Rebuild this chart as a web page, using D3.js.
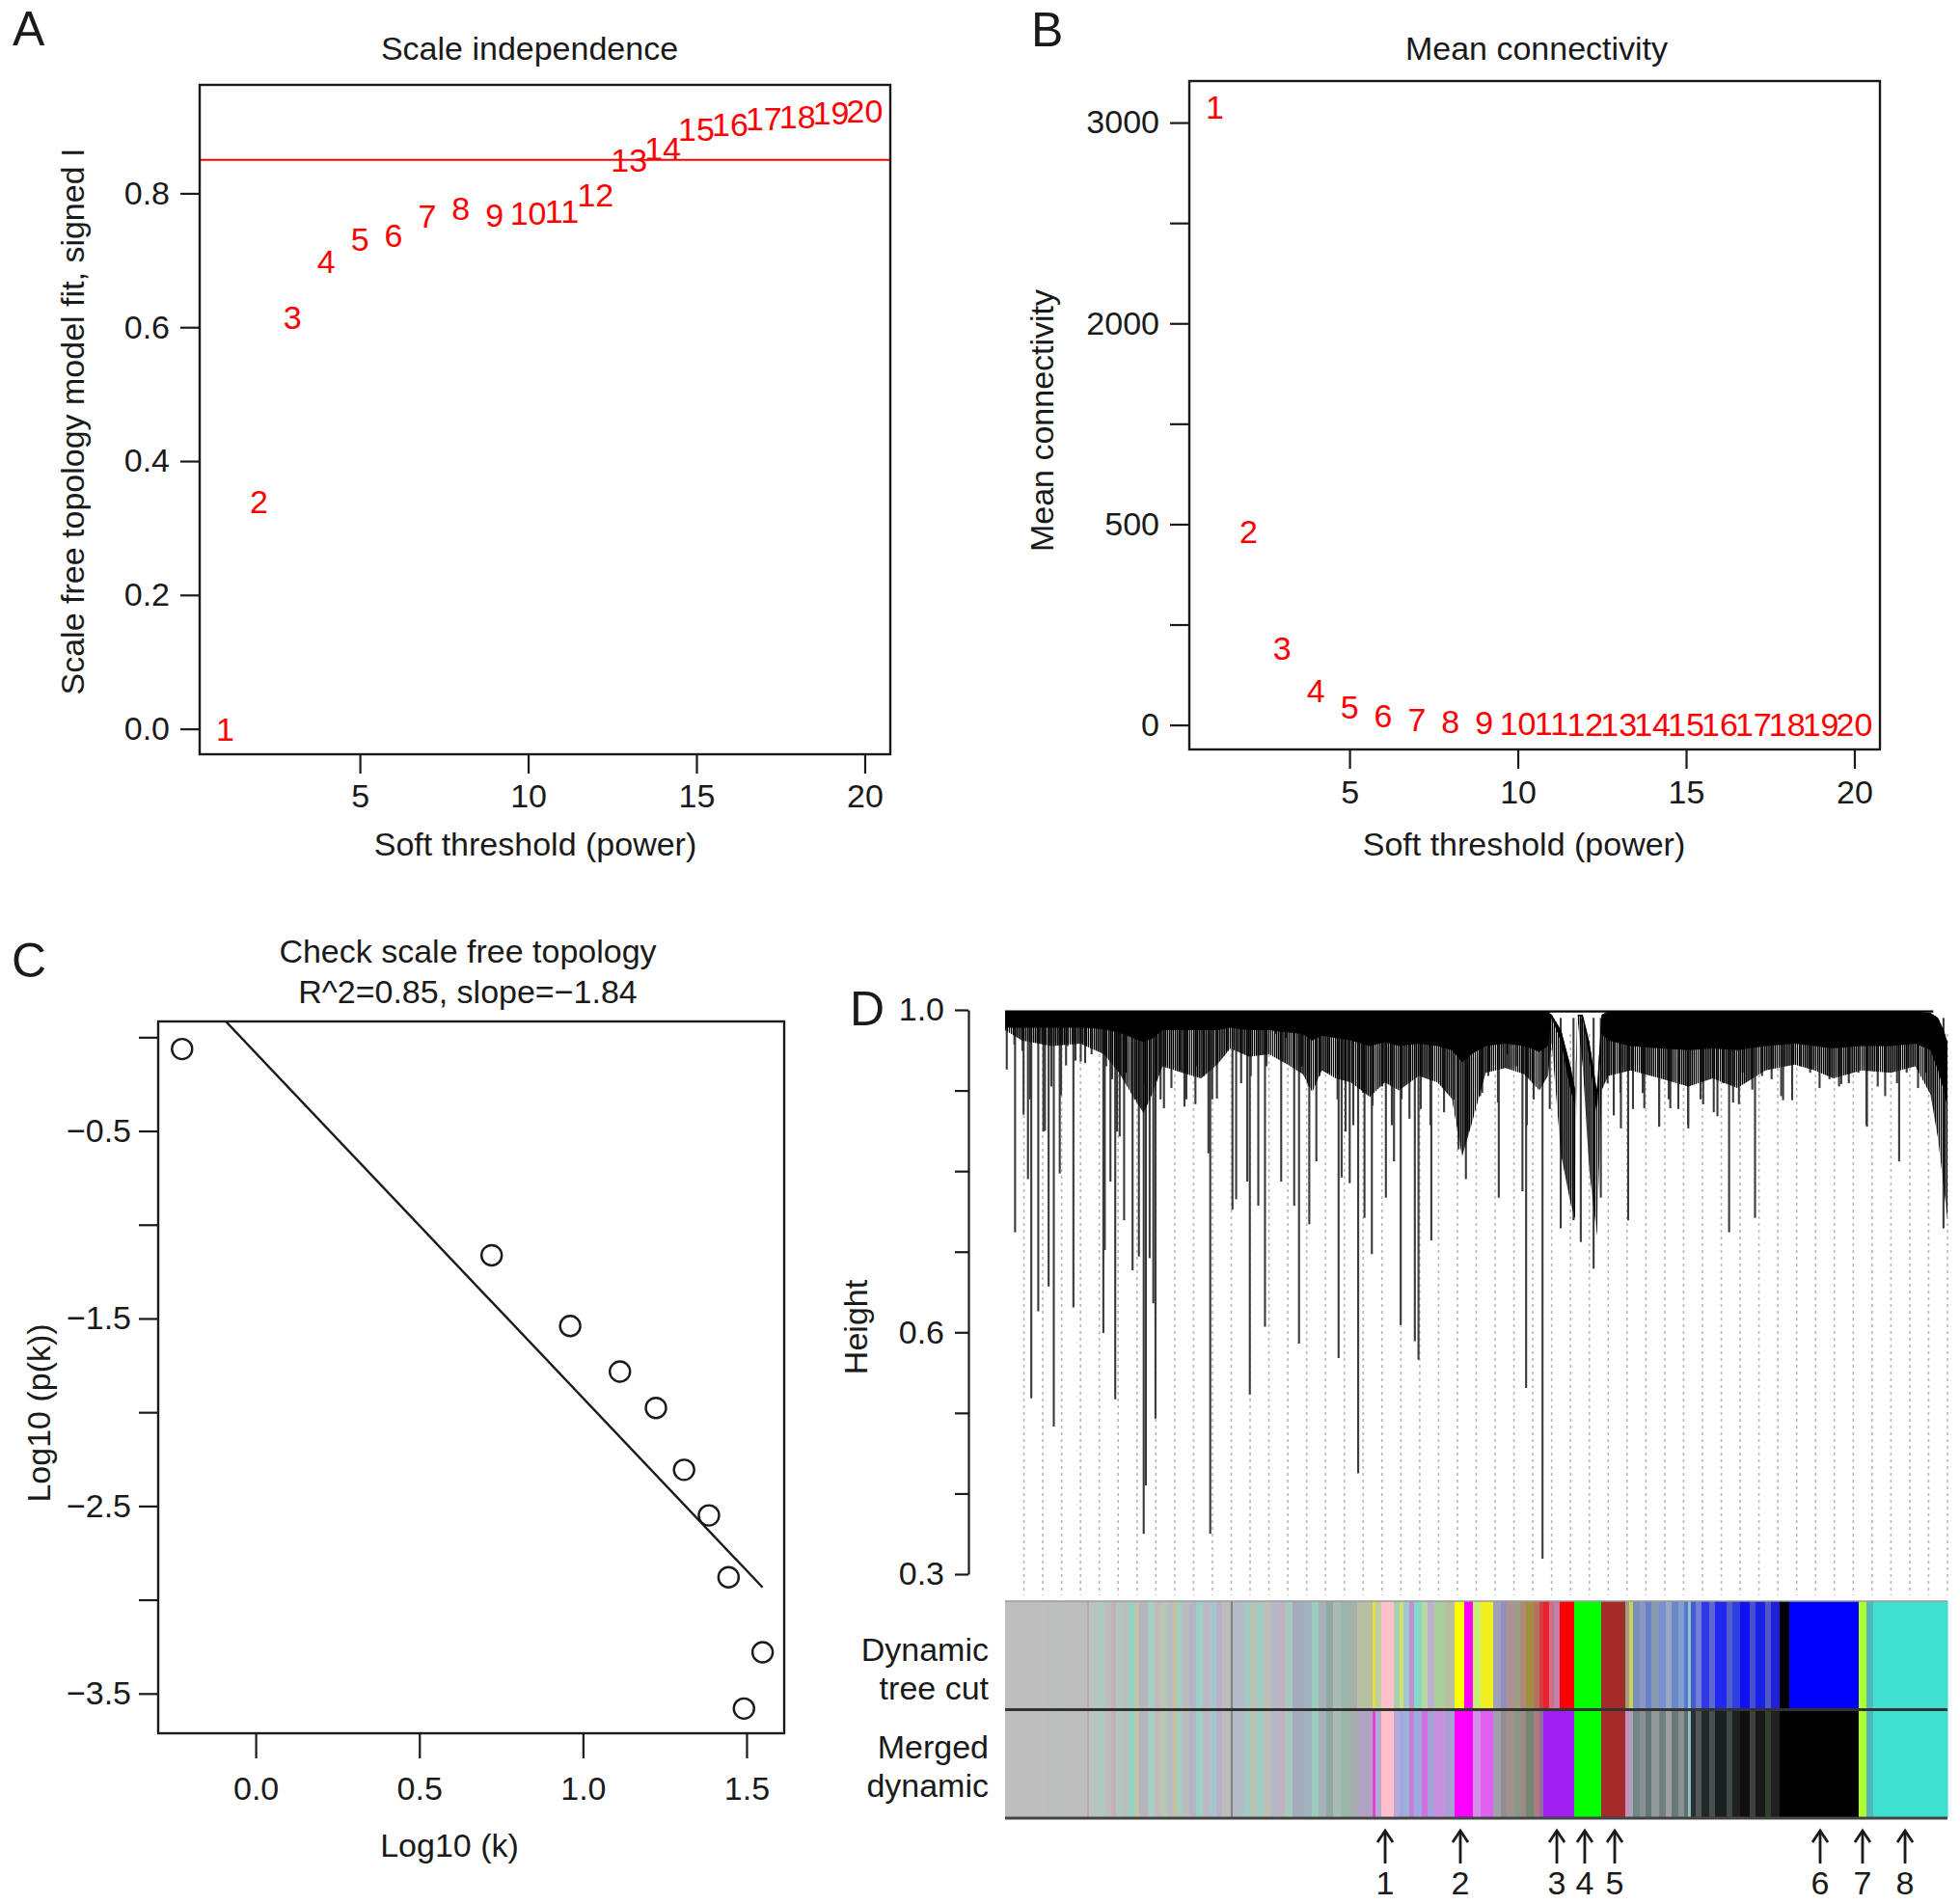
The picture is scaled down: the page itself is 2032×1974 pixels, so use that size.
<!DOCTYPE html>
<html><head><meta charset="utf-8">
<script src="https://cdn.jsdelivr.net/npm/d3@7"></script>
<style>
body{margin:0;background:#fff}
svg{display:block}
text{font-family:"Liberation Sans",Arial,Helvetica,sans-serif}
</style>
</head><body>
<svg id="fig" width="2032" height="1974"></svg>
<script>
// ---------------- DATA ----------------
const powers = [1,2,3,4,5,6,7,8,9,10,11,12,13,14,15,16,17,18,19,20];
const scaleFitR2 = [0.000,0.340,0.614,0.698,0.731,0.737,0.766,0.778,0.768,0.770,0.773,0.798,0.849,0.867,0.896,0.903,0.911,0.915,0.920,0.923];
const r2Cutoff = 0.85;
const meanConnectivity = [3077,963,384,170,89,47,27,17,12,8,6,4.5,3.5,2.8,2.2,1.8,1.5,1.2,1.0,0.9];
const powerTicks = [5,10,15,20];
const fitTicks = [0,0.2,0.4,0.6,0.8];
const fitTickLabels = ["0.0","0.2","0.4","0.6","0.8"];
const connTicks = [0,500,1000,1500,2000,2500,3000];
const connTickLabels = ["0","","500","","2000","","3000"];

const logK  = [-0.225,0.721,0.961,1.113,1.223,1.309,1.385,1.445,1.549,1.492];
const logPk = [-0.063,-1.163,-1.540,-1.783,-1.977,-2.307,-2.550,-2.880,-3.280,-3.580];
const fitSlope = -1.84, fitIntercept = -0.084;
const logKTicks = [0,0.5,1.0,1.5];
const logKTickLabels = ["0.0","0.5","1.0","1.5"];
const logPkTicks = [0,-0.5,-1,-1.5,-2,-2.5,-3,-3.5];
const logPkTickLabels = ["","\u22120.5","","\u22121.5","","\u22122.5","","\u22123.5"];

const heightTicks = [0.3,0.4,0.5,0.6,0.7,0.8,0.9,1.0];
const heightTickLabels = ["0.3","","","0.6","","","","1.0"];
// dendrogram canopy profile: [leaf-order %, top height, solid-band bottom, dense-lines bottom]
const canopy = [
 [0,0.998,0.978,0.975],[1.8,0.998,0.978,0.962],[4.9,0.998,0.978,0.955],[8.0,0.998,0.978,0.958],
 [10.5,0.998,0.976,0.945],[12.1,0.998,0.972,0.922],[13.6,0.998,0.965,0.892],[14.7,0.998,0.960,0.872],
 [15.7,0.998,0.965,0.898],[16.7,0.998,0.975,0.930],[18.8,0.998,0.975,0.922],[20.8,0.998,0.975,0.915],
 [22.5,0.998,0.975,0.932],[23.9,0.998,0.978,0.952],[25.9,0.998,0.975,0.942],[28.0,0.998,0.975,0.945],
 [30.0,0.998,0.972,0.932],[31.6,0.998,0.970,0.920],[32.6,0.998,0.962,0.898],[33.6,0.998,0.968,0.925],
 [35.1,0.998,0.965,0.915],[36.7,0.998,0.962,0.910],[38.7,0.998,0.955,0.892],[40.3,0.998,0.960,0.910],
 [41.8,0.998,0.955,0.900],[43.9,0.998,0.958,0.918],[45.9,0.998,0.955,0.910],[47.4,0.998,0.950,0.890],
 [48.5,0.998,0.935,0.818],[49.5,0.998,0.945,0.858],[51.0,0.998,0.955,0.922],[53.1,0.998,0.958,0.928],
 [55.1,0.998,0.955,0.920],[56.7,0.998,0.948,0.900],[57.6,0.998,0.955,0.918],[58.0,0.994,0.990,0.960],
 [59.0,0.975,0.960,0.820],[60.0,0.930,0.900,0.760],[60.5,0.900,0.880,0.740],[60.7,0.994,0.994,0.994],
 [61.3,0.994,0.990,0.930],[62.0,0.960,0.940,0.800],[62.8,0.900,0.870,0.720],[63.3,0.994,0.970,0.900],
 [64.0,0.998,0.962,0.918],[66.4,0.998,0.955,0.925],[69.5,0.998,0.952,0.915],[72.5,0.998,0.950,0.905],
 [75.1,0.998,0.952,0.915],[77.7,0.998,0.950,0.903],[80.7,0.998,0.955,0.925],[83.8,0.998,0.958,0.932],
 [85.9,0.998,0.955,0.925],[87.9,0.998,0.952,0.915],[90.9,0.998,0.955,0.925],[94.0,0.998,0.955,0.922],
 [96.6,0.998,0.958,0.930],[98.2,0.996,0.950,0.895],[99.0,0.990,0.925,0.840],[99.6,0.975,0.900,0.780],
 [100,0.960,0.880,0.740]
];
// individual hanging branches: [leaf-order %, leaf height]
const drops = [
 [0.18,0.926],[1.06,0.724],[1.96,0.870],[2.43,0.790],[2.78,0.518],[3.52,0.626],[4.23,0.850],[4.62,0.657],
 [5.17,0.483],[5.80,0.797],[6.47,0.931],[7.25,0.631],[8.03,0.936],[10.43,0.599],[10.58,0.702],[11.18,0.787],
 [11.69,0.517],[12.16,0.843],[12.63,0.739],[13.53,0.677],[14.20,0.694],[14.71,0.350],[14.94,0.410],[15.34,0.692],
 [15.73,0.636],[15.96,0.493],[16.86,0.878],[17.65,0.903],[19.03,0.880],[20.20,0.883],[21.58,0.822],[21.77,0.350],
 [22.48,0.890],[24.13,0.752],[24.52,0.765],[25.70,0.787],[25.97,0.523],[26.87,0.757],[27.58,0.607],[29.30,0.787],
 [30.68,0.757],[31.19,0.586],[32.28,0.734],[33.03,0.812],[35.39,0.568],[35.71,0.792],[36.57,0.785],[37.47,0.425],
 [38.14,0.742],[38.92,0.697],[40.41,0.767],[41.27,0.812],[41.98,0.609],[42.91,0.865],[43.48,0.589],[43.87,0.566],
 [45.23,0.714],[46.58,0.873],[48.12,0.827],[48.90,0.790],[50.41,0.893],[52.39,0.767],[54.90,0.775],[55.29,0.531],
 [57.03,0.319],[58.96,0.729],[60.32,0.739],[61.09,0.712],[62.45,0.679],[63.22,0.767],[65.35,0.853],[66.12,0.739],
 [67.83,0.878],[69.41,0.855],[70.59,0.878],[72.50,0.853],[74.08,0.883],[75.59,0.868],[76.83,0.724],[77.87,0.883],
 [79.58,0.742],[82.56,0.888],[83.52,0.888],[86.43,0.903],[88.73,0.908],[91.46,0.855],[93.39,0.893],[94.87,0.812],
 [96.88,0.903],[99.58,0.729],
 [0.99,0.957],[1.84,0.949],[2.66,0.889],[3.55,0.960],[4.06,0.849],[4.91,0.905],[5.94,0.894],[6.62,0.955],
 [7.47,0.937],[8.50,0.934],[9.18,0.945],[10.72,0.930],[11.36,0.914],[11.87,0.849],[12.90,0.922],[13.79,0.889],
 [14.81,0.909],[15.97,0.930],[16.50,0.889],[18.53,0.925],[19.24,0.889],[20.27,0.930],[21.09,0.918],[21.98,0.889],
 [23.64,0.949],[25.05,0.909],[26.07,0.918],[27.74,0.930],[28.76,0.970],[29.78,0.965],[31.50,0.930],[32.21,0.905],
 [33.37,0.918],[34.26,0.922],[35.28,0.889],[36.13,0.849],[36.95,0.857],[37.97,0.897],[38.99,0.881],[40.02,0.905],
 [41.04,0.857],[42.07,0.889],[44.11,0.877],[45.14,0.857],[47.56,0.889],[49.10,0.849],[50.63,0.897],[51.28,0.918],
 [52.30,0.885],[53.33,0.945],[54.22,0.930],[55.37,0.857],[56.09,0.889],[57.80,0.877],[63.94,0.909],[64.59,0.869],
 [65.30,0.897],[66.63,0.877],[67.66,0.897],[69.40,0.857],[70.42,0.889],[71.44,0.877],[72.47,0.857],[73.80,0.889],
 [75.20,0.873],[76.22,0.909],[77.25,0.885],[78.27,0.922],[79.29,0.901],[80.32,0.918],[81.34,0.914],[82.36,0.893],
 [84.41,0.930],[85.43,0.922],[87.48,0.914],[88.50,0.905],[89.53,0.909],[90.55,0.922],[91.40,0.857],[92.60,0.905],
 [94.65,0.909],[95.67,0.922],[97.72,0.922]
];
// module colour stripes (leaf-order % boundaries)
const stripeBreaks = [0,4.40,5.53,6.35,8.70,8.90,10.03,10.54,11.26,11.77,12.59,13.10,13.72,14.23,15.15,15.86,16.48,17.20,17.81,18.22,18.83,19.55,20.27,20.98,21.70,22.42,23.03,23.95,24.16,25.38,26.00,26.71,27.43,28.25,29.07,29.68,30.50,31.73,32.55,33.27,34.08,34.80,35.62,36.44,37.36,39.00,39.30,39.92,41.25,41.86,42.27,42.89,43.40,44.22,44.83,45.55,46.67,47.70,48.72,49.64,50.46,51.79,52.61,53.22,54.04,54.66,55.27,56.09,56.70,57.11,57.73,58.24,58.85,60.39,63.25,65.81,66.22,66.63,67.35,67.96,68.58,69.40,70.11,70.73,71.44,72.06,72.47,72.77,73.29,73.90,74.72,75.33,76.56,77.17,77.99,79.02,79.63,80.66,81.27,82.19,83.21,90.58,91.40,92.12,100];
const sharedLeftColors = ["#bebebe","#bcbebd","#b9c0bd","#bdbdbd","#c2a4ac","#b8c4c0","#a8cbc2","#bdbdbd","#c4b0b4","#b0c6be","#bdbdbd","#96d2c4","#c0c4a8","#b8b4bc","#a6cec4","#c4b8bc","#b4c8b4","#b8bcc4","#c8c09c","#a4ccc2","#bcbcbc","#b4b4c8","#9ccfc6","#c0b8c0","#a8c4cc","#b8b0c4","#bcbcbc","#808080","#b4bcc8","#a4c8c4","#b8c4b0","#a0ccc4","#bcc0b4","#b4b8c8","#c4b0c0","#a8c8c0","#a4acbc","#a0b4c0","#9cccbc","#a8b0b8","#90a8a0","#a8bcb4","#98b8a8","#a4b0a8"];
const dynamicRightColors = ["#b8c0a0","#e8e040","#c0d0a0","#ffc0cb","#a8d0b0","#d0e070","#a0c8d0","#c090d0","#88d8c8","#b8d8a0","#c0b0d0","#a8d098","#b8c0a0","#ffff00","#ff00ff","#c8f070","#f0f020","#a0a0b8","#9090c0","#b09090","#98a088","#b08878","#a09040","#b87060","#d04040","#e82030","#d07080","#c080b0","#ff0000","#00ff00","#a52a2a","#a0a080","#d0d060","#7890b8","#8898c0","#6880c8","#8898b0","#7890d0","#98a8c0","#6888c8","#80a0d0","#5878d0","#90c8c0","#4858d0","#7080d8","#3038e8","#6068d0","#2028f0","#5060c8","#3040e0","#1010f0","#4850d0","#1820e8","#5058c8","#2020d8","#000000","#0000ff","#adff2f","#50b8b8","#40e0d0"];
const mergedRightColors = ["#b0a4c4","#e040e0","#b8a8d0","#ffc0cb","#b8a8d8","#a0a8e0","#9cb0d8","#c080d8","#a0a8e0","#d070e0","#a8a0d8","#c890e0","#a8a0d0","#ff00ff","#ff00ff","#d090e8","#e060f0","#a0a0b0","#909090","#a09090","#889888","#a08888","#708870","#b07880","#9070a0","#a020f0","#a020f0","#a020f0","#a020f0","#00ff00","#a52a2a","#c090c0","#b0a0b0","#708888","#8c9090","#607878","#909898","#708080","#a0a0a0","#687878","#889090","#607070","#90c0c0","#283030","#505858","#202828","#485050","#1a2020","#404848","#202020","#101010","#404040","#181818","#304030","#202020","#000000","#000000","#adff2f","#50b8b8","#40e0d0"];
const dynamicColors = sharedLeftColors.concat(dynamicRightColors);
const mergedColors = sharedLeftColors.concat(mergedRightColors);
const colorRowLabels = [["Dynamic","tree cut"],["Merged","dynamic"]];
const moduleArrowPct = [40.33,48.31,58.55,61.51,64.69,86.49,90.99,95.50];
const moduleArrowLabels = ["1","2","3","4","5","6","7","8"];

// ---------------- DRAWING ----------------
const FS = 34;
const INK = "#1a1a1a";
const svg = d3.select("#fig");

function styleAxis(g, keepDomain){
  g.attr("font-size", FS).attr("font-family", '"Liberation Sans",Arial,Helvetica,sans-serif');
  if(!keepDomain) g.select(".domain").remove();
  else g.select(".domain").attr("stroke", INK).attr("stroke-width", 2.2);
  g.selectAll(".tick line").attr("stroke", INK).attr("stroke-width", 2.2);
  g.selectAll(".tick text").attr("fill", INK);
}
function frame(x0,y0,x1,y1){
  svg.append("rect").attr("x",x0).attr("y",y0).attr("width",x1-x0).attr("height",y1-y0)
    .attr("fill","none").attr("stroke",INK).attr("stroke-width",2.4);
}
function txt(x,y,s,opts={}){
  const t = svg.append("text").attr("x",x).attr("y",y).attr("font-size",opts.fs||FS)
    .attr("fill",opts.fill||INK).attr("text-anchor",opts.anchor||"middle").text(s);
  if(opts.rot) t.attr("transform",`rotate(-90,${x},${y})`);
  return t;
}

// ===== Panel A =====
const xA = d3.scaleLinear().domain([0.24,20.76]).range([207,923]);
const yA = d3.scaleLinear().domain([-0.038,0.962]).range([782,88]);
svg.append("g").attr("transform","translate(0,782)")
  .call(d3.axisBottom(xA).tickValues(powerTicks).tickSize(20).tickPadding(11).tickSizeOuter(0))
  .call(g=>styleAxis(g,false));
svg.append("g").attr("transform","translate(207,0)")
  .call(d3.axisLeft(yA).tickValues(fitTicks).tickFormat((d,i)=>fitTickLabels[i]).tickSize(20).tickPadding(11).tickSizeOuter(0))
  .call(g=>styleAxis(g,false));
svg.append("line").attr("x1",xA.range()[0]).attr("x2",xA.range()[1])
  .attr("y1",yA(r2Cutoff)).attr("y2",yA(r2Cutoff)).attr("stroke","#ff0000").attr("stroke-width",2.2);
svg.append("g").selectAll("text").data(powers).join("text")
  .attr("x",d=>xA(d)).attr("y",(d,i)=>yA(scaleFitR2[i])).attr("dy","0.35em")
  .attr("text-anchor","middle").attr("font-size",FS).attr("fill","#ff0000").text(d=>d);
frame(207,88,923,782);
txt(549,62,"Scale independence");
txt(555,887,"Soft threshold (power)");
txt(87,437,"Scale free topology model fit, signed I",{rot:true});
txt(13,47,"A",{fs:50,anchor:"start"});

// ===== Panel B =====
const xB = d3.scaleLinear().domain([0.24,20.76]).range([1233,1949]);
const yB = d3.scaleLinear().domain([-122,3207]).range([777,84]);
svg.append("g").attr("transform","translate(0,777)")
  .call(d3.axisBottom(xB).tickValues(powerTicks).tickSize(20).tickPadding(12).tickSizeOuter(0))
  .call(g=>styleAxis(g,false));
svg.append("g").attr("transform","translate(1233,0)")
  .call(d3.axisLeft(yB).tickValues(connTicks).tickFormat((d,i)=>connTickLabels[i]).tickSize(20).tickPadding(11).tickSizeOuter(0))
  .call(g=>styleAxis(g,false));
svg.append("g").selectAll("text").data(powers).join("text")
  .attr("x",d=>xB(d)).attr("y",(d,i)=>yB(meanConnectivity[i])).attr("dy","0.35em")
  .attr("text-anchor","middle").attr("font-size",FS).attr("fill","#ff0000").text(d=>d);
frame(1233,84,1949,777);
txt(1593,62,"Mean connectivity");
txt(1580,887,"Soft threshold (power)");
txt(1092,436,"Mean connectivity",{rot:true});
txt(1069,48,"B",{fs:50,anchor:"start"});

// ===== Panel C =====
const xC = d3.scaleLinear().domain([-0.298,1.615]).range([164,813]);
const yC = d3.scaleLinear().domain([-3.712,0.084]).range([1797,1059]);
svg.append("g").attr("transform","translate(0,1797)")
  .call(d3.axisBottom(xC).tickValues(logKTicks).tickFormat((d,i)=>logKTickLabels[i]).tickSize(26).tickPadding(19).tickSizeOuter(0))
  .call(g=>styleAxis(g,false));
svg.append("g").attr("transform","translate(164,0)")
  .call(d3.axisLeft(yC).tickValues(logPkTicks).tickFormat((d,i)=>logPkTickLabels[i]).tickSize(20).tickPadding(8).tickSizeOuter(0))
  .call(g=>styleAxis(g,false));
svg.append("clipPath").attr("id","clipC").append("rect")
  .attr("x",164).attr("y",1059).attr("width",649).attr("height",738);
const kExt = d3.extent(logK);
svg.append("line").attr("clip-path","url(#clipC)")
  .attr("x1",xC(kExt[0])).attr("y1",yC(fitIntercept+fitSlope*kExt[0]))
  .attr("x2",xC(kExt[1])).attr("y2",yC(fitIntercept+fitSlope*kExt[1]))
  .attr("stroke",INK).attr("stroke-width",2.4);
svg.append("g").selectAll("circle").data(logK).join("circle")
  .attr("cx",d=>xC(d)).attr("cy",(d,i)=>yC(logPk[i])).attr("r",10.5)
  .attr("fill","none").attr("stroke",INK).attr("stroke-width",2.4);
frame(164,1059,813,1797);
txt(485,998,"Check scale free topology");
txt(485,1040,"R^2=0.85, slope=\u22121.84");
txt(466,1925,"Log10 (k)");
txt(52,1465,"Log10 (p(k))",{rot:true});
txt(12,1013,"C",{fs:50,anchor:"start"});

// ===== Panel D =====
const xD = d3.scaleLinear().domain([0,100]).range([1042,2019]);
const yD = d3.scaleLinear().domain([0.3,1.0]).range([1632,1047]);
svg.append("g").attr("transform","translate(1004,0)")
  .call(d3.axisLeft(yD).tickValues(heightTicks).tickFormat((d,i)=>heightTickLabels[i]).tickSize(14).tickPadding(11).tickSizeOuter(0))
  .call(g=>styleAxis(g,true));
txt(899,1376,"Height",{rot:true});
txt(881,1063,"D",{fs:50,anchor:"start"});

const defs = svg.append("defs");
const pat = defs.append("pattern").attr("id","vlines").attr("patternUnits","userSpaceOnUse")
  .attr("width",2.1).attr("height",10);
pat.append("rect").attr("x",0).attr("y",0).attr("width",1.5).attr("height",10).attr("fill","#000");

// guide lines
const guideCount = 50;
const dBottom = yD(0.274);
svg.append("g").selectAll("line").data(d3.range(1,guideCount+1)).join("line")
  .attr("x1",k=>xD(k*100/guideCount)).attr("x2",k=>xD(k*100/guideCount))
  .attr("y1",yD(0.97)).attr("y2",dBottom)
  .attr("stroke","#b8b8b8").attr("stroke-width",1.6).attr("stroke-dasharray","3,4");

const areaDense = d3.area().x(d=>xD(d[0])).y0(d=>yD(d[1])).y1(d=>yD(d[3]));
const areaBand = d3.area().x(d=>xD(d[0])).y0(d=>yD(d[1])).y1(d=>yD(d[2]));
svg.append("path").attr("d",areaDense(canopy)).attr("fill","#fff");

// hanging branches
svg.append("g").selectAll("line").data(drops).join("line")
  .attr("x1",d=>xD(d[0])).attr("x2",d=>xD(d[0]))
  .attr("y1",yD(0.99)).attr("y2",d=>yD(d[1]))
  .attr("stroke","#3a3a3a").attr("stroke-width",2.1);

svg.append("path").attr("d",areaDense(canopy)).attr("fill","url(#vlines)");
svg.append("path").attr("d",areaBand(canopy)).attr("fill","#000");
svg.append("line").attr("x1",xD(0)).attr("x2",xD(98.5)).attr("y1",yD(0.998)).attr("y2",yD(0.998))
  .attr("stroke","#000").attr("stroke-width",2.4);

// colour rows
const rowTop = 1660, rowMid = 1772.5, rowBot = 1885;
function stripeRow(colors, y0, y1){
  svg.append("g").selectAll("rect").data(colors).join("rect")
    .attr("x",(c,i)=>xD(stripeBreaks[i]))
    .attr("width",(c,i)=>Math.max(0.5, xD(stripeBreaks[i+1])-xD(stripeBreaks[i]) + 0.6))
    .attr("y",y0).attr("height",y1-y0).attr("fill",c=>c);
}
stripeRow(dynamicColors, rowTop, rowMid);
stripeRow(mergedColors, rowMid, rowBot);
svg.append("line").attr("x1",xD(0)).attr("x2",xD(100)).attr("y1",rowTop).attr("y2",rowTop)
  .attr("stroke","#9a9a9a").attr("stroke-width",1.6);
svg.append("line").attr("x1",xD(0)).attr("x2",xD(100)).attr("y1",rowMid).attr("y2",rowMid)
  .attr("stroke","#333").attr("stroke-width",2.8);
svg.append("line").attr("x1",xD(0)).attr("x2",xD(100)).attr("y1",rowBot).attr("y2",rowBot)
  .attr("stroke","#444").attr("stroke-width",2.8);
txt(1025,1722,colorRowLabels[0][0],{anchor:"end"});
txt(1025,1762,colorRowLabels[0][1],{anchor:"end"});
txt(1025,1823,colorRowLabels[1][0],{anchor:"end"});
txt(1025,1863,colorRowLabels[1][1],{anchor:"end"});

// module arrows
const ag = svg.append("g").attr("stroke",INK).attr("stroke-width",2.8).attr("fill","none");
moduleArrowPct.forEach((p,i)=>{
  const x = xD(p);
  ag.append("line").attr("x1",x).attr("x2",x).attr("y1",1932).attr("y2",1898);
  ag.append("path").attr("d",`M${x-8},${1910}L${x},${1898}L${x+8},${1910}`);
  txt(x,1964,moduleArrowLabels[i]);
});
</script>
</body></html>
